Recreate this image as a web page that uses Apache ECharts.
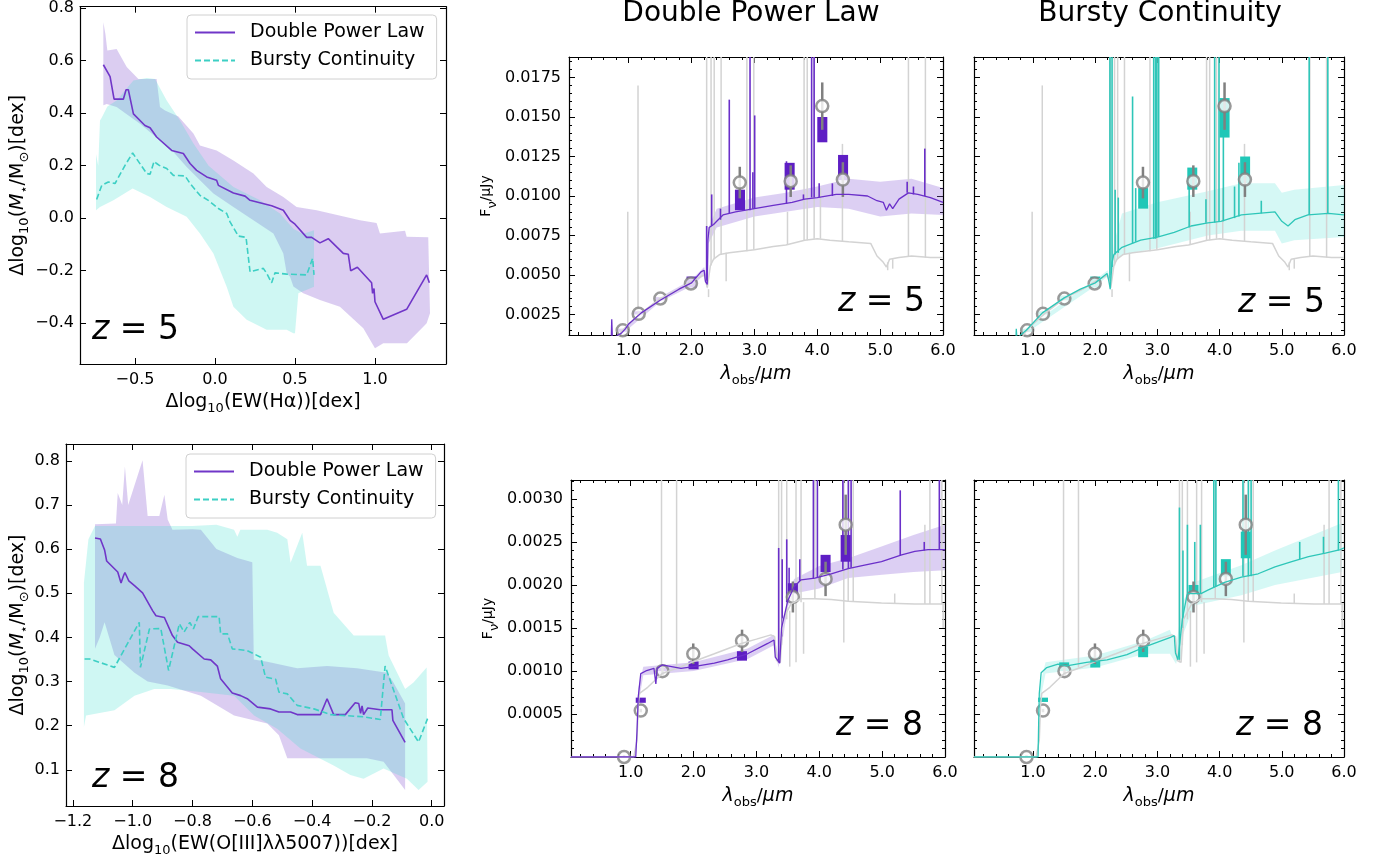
<!DOCTYPE html>
<html>
<head>
<meta charset="utf-8">
<script src="https://cdn.jsdelivr.net/npm/echarts@6/dist/echarts.min.js"></script>
<style>
  html, body { margin: 0; padding: 0; background: #fff; }
  #chart { width: 1385px; height: 858px; }
</style>
</head>
<body>
<div id="chart"></div>
<script>
// ---------- left panels: Delta log M vs Delta log EW ----------
var dpl5Line = [[-0.698,0.584],[-0.656,0.539],[-0.631,0.453],[-0.573,0.453],[-0.556,0.489],[-0.542,0.489],[-0.51,0.397],[-0.438,0.353],[-0.406,0.344],[-0.365,0.309],[-0.271,0.258],[-0.198,0.246],[-0.156,0.208],[-0.115,0.182],[-0.052,0.157],[0.010,0.144],[0.021,0.125],[0.115,0.096],[0.188,0.084],[0.219,0.068],[0.354,0.047],[0.427,0.030],[0.469,-0.008],[0.5,-0.023],[0.573,-0.073],[0.604,-0.073],[0.656,-0.094],[0.708,-0.078],[0.802,-0.134],[0.833,-0.137],[0.848,-0.2],[0.890,-0.187],[0.979,-0.246],[0.985,-0.286],[0.994,-0.268],[1.0,-0.318],[1.052,-0.385],[1.198,-0.347],[1.323,-0.216],[1.340,-0.246]];
var dpl5Band = [[-0.698,0.43],[-0.698,0.746],[-0.685,0.70],[-0.673,0.638],[-0.615,0.644],[-0.552,0.575],[-0.479,0.530],[-0.365,0.530],[-0.344,0.423],[-0.3125,0.41],[-0.229,0.387],[-0.135,0.322],[-0.094,0.277],[0.01,0.258],[0.115,0.220],[0.24,0.17],[0.323,0.119],[0.427,0.081],[0.51,0.043],[0.635,0.030],[0.906,-0.008],[1.01,-0.018],[1.031,-0.058],[1.188,-0.048],[1.198,-0.071],[1.333,-0.073],[1.344,-0.362],
  [1.323,-0.40],[1.302,-0.413],[1.2,-0.476],[1.052,-0.476],[1.0,-0.495],[0.927,-0.419],[0.781,-0.337],[0.656,-0.311],[0.552,-0.286],[0.49,-0.26],[0.469,-0.223],[0.448,-0.21],[0.427,-0.134],[0.365,-0.058],[0.24,-0.008],[0.115,0.043],[-0.01,0.094],[-0.094,0.144],[-0.177,0.195],[-0.26,0.252],[-0.344,0.296],[-0.469,0.359],[-0.615,0.423],[-0.677,0.435]];
var bc5Line = [[-0.74,0.071],[-0.708,0.125],[-0.667,0.138],[-0.625,0.132],[-0.5625,0.201],[-0.515,0.248],[-0.427,0.170],[-0.406,0.167],[-0.381,0.216],[-0.365,0.208],[-0.348,0.201],[-0.302,0.189],[-0.26,0.163],[-0.1875,0.161],[-0.156,0.132],[-0.094,0.087],[-0.042,0.068],[0.021,0.037],[0.073,0.018],[0.094,-0.014],[0.146,-0.068],[0.194,-0.073],[0.219,-0.204],[0.302,-0.191],[0.323,-0.21],[0.354,-0.246],[0.375,-0.208],[0.448,-0.213],[0.573,-0.216],[0.610,-0.153],[0.619,-0.216]];
var bc5Band = [[-0.744,0.03],[-0.744,0.243],[-0.73,0.20],[-0.719,0.372],[-0.71,0.38],[-0.673,0.425],[-0.615,0.448],[-0.51,0.524],[-0.427,0.534],[-0.375,0.530],[-0.302,0.448],[-0.219,0.372],[-0.135,0.284],[-0.04,0.20],[0.115,0.119],[0.281,0.068],[0.406,0.018],[0.49,-0.04],[0.55,-0.06],[0.619,-0.046],[0.619,-0.261],
  [0.521,-0.286],[0.5,-0.438],[0.49,-0.438],[0.448,-0.425],[0.323,-0.425],[0.198,-0.387],[0.115,-0.337],[0.073,-0.261],[-0.01,-0.134],[-0.094,-0.058],[-0.177,0.005],[-0.302,0.043],[-0.406,0.081],[-0.515,0.113],[-0.635,0.068],[-0.719,0.043]];

var dpl8Line = [[-1.126,0.625],[-1.108,0.623],[-1.094,0.598],[-1.087,0.573],[-1.05,0.548],[-1.039,0.523],[-1.031,0.539],[-1.026,0.547],[-1.013,0.528],[-0.994,0.517],[-0.967,0.501],[-0.933,0.460],[-0.922,0.449],[-0.894,0.445],[-0.867,0.404],[-0.85,0.389],[-0.811,0.381],[-0.8,0.374],[-0.761,0.351],[-0.739,0.349],[-0.717,0.335],[-0.706,0.306],[-0.667,0.274],[-0.639,0.268],[-0.617,0.261],[-0.583,0.242],[-0.539,0.238],[-0.511,0.231],[-0.472,0.231],[-0.45,0.225],[-0.372,0.225],[-0.35,0.261],[-0.328,0.225],[-0.289,0.225],[-0.256,0.252],[-0.244,0.25],[-0.238,0.228],[-0.233,0.245],[-0.228,0.225],[-0.214,0.240],[-0.172,0.236],[-0.133,0.236],[-0.13,0.212],[-0.089,0.162]];
var dpl8Band = [[-1.126,0.374],[-1.126,0.656],[-1.056,0.658],[-1.05,0.727],[-1.035,0.70],[-1.026,0.787],[-1.015,0.70],[-0.967,0.801],[-0.95,0.675],[-0.911,0.675],[-0.894,0.723],[-0.883,0.667],[-0.867,0.644],[-0.80,0.645],[-0.772,0.644],[-0.72,0.60],[-0.65,0.58],[-0.60,0.57],[-0.595,0.35],[-0.55,0.345],[-0.45,0.33],[-0.35,0.335],[-0.25,0.33],[-0.15,0.32],[-0.13,0.30],[-0.089,0.25],[-0.089,0.054],
  [-0.161,0.118],[-0.217,0.126],[-0.483,0.126],[-0.511,0.178],[-0.55,0.205],[-0.661,0.223],[-0.772,0.268],[-0.883,0.291],[-0.95,0.30],[-0.994,0.32],[-1.061,0.36],[-1.094,0.434],[-1.11,0.40]];
var bc8Line = [[-1.161,0.351],[-1.144,0.351],[-1.061,0.332],[-0.978,0.434],[-0.974,0.332],[-0.944,0.419],[-0.906,0.420],[-0.88,0.325],[-0.844,0.431],[-0.828,0.412],[-0.809,0.434],[-0.797,0.419],[-0.781,0.447],[-0.711,0.447],[-0.706,0.408],[-0.683,0.408],[-0.667,0.374],[-0.617,0.370],[-0.572,0.355],[-0.556,0.310],[-0.522,0.305],[-0.511,0.276],[-0.483,0.272],[-0.45,0.246],[-0.394,0.238],[-0.339,0.225],[-0.228,0.220],[-0.172,0.214],[-0.156,0.335],[-0.094,0.216],[-0.044,0.163],[-0.014,0.216]];
var bc8Band = [[-1.163,0.197],[-1.163,0.524],[-1.148,0.622],[-1.126,0.652],[-0.95,0.652],[-0.80,0.652],[-0.72,0.655],[-0.661,0.644],[-0.65,0.628],[-0.64,0.644],[-0.55,0.644],[-0.517,0.637],[-0.483,0.622],[-0.472,0.569],[-0.433,0.637],[-0.417,0.562],[-0.372,0.562],[-0.328,0.456],[-0.261,0.404],[-0.156,0.404],[-0.144,0.359],[-0.089,0.283],[-0.061,0.298],[-0.017,0.332],[-0.014,0.073],
  [-0.044,0.054],[-0.083,0.08],[-0.161,0.103],[-0.228,0.08],[-0.272,0.088],[-0.328,0.11],[-0.439,0.148],[-0.517,0.193],[-0.594,0.223],[-0.661,0.268],[-0.772,0.276],[-0.872,0.283],[-0.928,0.283],[-0.994,0.268],[-1.061,0.235],[-1.156,0.223]];

// ---------- SED panels ----------
// photometry (same in both columns)
var phot5X = [0.905, 1.159, 1.503, 1.99, 2.767, 3.577, 4.079, 4.407];
var phot5Y = [0.0015, 0.00254, 0.00351, 0.00446, 0.01085, 0.01094, 0.01569, 0.01104];
var phot5Err = [0.0001, 0.0001, 0.0001, 0.0001, 0.001, 0.001, 0.0015, 0.0011];
var phot8X = [0.894, 1.16, 1.505, 1.995, 2.771, 3.58, 4.10, 4.42];
var phot8Y = [0.0, 0.00054, 0.000997, 0.0012, 0.00135, 0.00186, 0.00207, 0.0027];
var phot8Err = [0.00002, 0.00002, 0.00005, 0.00012, 0.00013, 0.00018, 0.0002, 0.00035];

// grey comparison spectra, [wavelength, flux] and lines [wavelength, base, tip]
var gray5 = [[0.80,0.0009],[0.88,0.0014],[1.0,0.0019],[1.2,0.0026],[1.5,0.0035],[1.8,0.0041],[2.0,0.0046],[2.2,0.0050],[2.25,0.0042],[2.27,0.0041],[2.3,0.0056],[2.35,0.0060],[2.45,0.0063],[2.6,0.0064],[2.8,0.0065],[3.0,0.0066],[3.3,0.0068],[3.5,0.0069],[3.8,0.0072],[4.0,0.0073],[4.2,0.0072],[4.5,0.0071],[4.85,0.0070],[4.95,0.0062],[5.05,0.0058],[5.1,0.0055],[5.15,0.0060],[5.3,0.0061],[5.5,0.0062],[5.8,0.0061],[6.0,0.0061]];
var gray5Lines = [[0.985,0.0019,0.0090],[1.148,0.0025,0.0170],[2.24,0.0050,0.03],[2.27,0.0041,0.0036],[2.31,0.0056,0.03],[2.36,0.0060,0.03],[2.47,0.0063,0.03],[2.55,0.0064,0.0046],[2.88,0.0065,0.03],[2.99,0.0066,0.03],[3.526,0.0069,0.0090],[3.79,0.0072,0.03],[3.84,0.0072,0.03],[3.95,0.0073,0.03],[4.05,0.0073,0.0105],[4.40,0.0071,0.0133],[5.12,0.0058,0.0053],[5.2,0.0060,0.0054],[5.45,0.0062,0.03],[5.72,0.0061,0.03]];
var gray8 = [[0.05,0],[1.05,0],[1.10,0.0002],[1.12,0.0006],[1.14,0.00074],[1.27,0.00081],[1.4,0.0009],[1.5,0.00097],[1.8,0.00105],[2.0,0.00111],[2.33,0.0012],[2.76,0.00132],[3.0,0.00137],[3.23,0.00142],[3.29,0.0014],[3.32,0.00112],[3.38,0.00110],[3.42,0.0016],[3.55,0.00178],[3.71,0.00184],[3.93,0.00184],[4.19,0.00183],[4.46,0.00181],[4.99,0.00179],[5.52,0.00178],[6.0,0.00178]];
var gray8Lines = [[1.49,0.00097,0.004],[1.73,0.00104,0.004],[3.354,0.0011,0.004],[3.40,0.0013,0.004],[3.482,0.0016,0.004],[3.53,0.0017,0.00105],[3.63,0.0018,0.004],[3.63,0.0018,0.0011],[3.71,0.0018,0.004],[3.75,0.0018,0.0012],[3.93,0.00184,0.004],[4.39,0.00182,0.00133],[4.39,0.00182,0.004],[4.46,0.00181,0.004],[4.54,0.00181,0.004],[5.2,0.00179,0.0019],[5.68,0.00178,0.0027],[5.76,0.00178,0.004],[5.95,0.00178,0.004],[5.97,0.00178,0.0015]];

// Double Power Law z=5
var dpl5Spec = [[0.72,0.0005],[0.73,0.0022],[0.74,0.0010],[0.88,0.0013],[0.95,0.0016],[1.0,0.0019],[1.2,0.0026],[1.5,0.0034],[1.8,0.0041],[2.0,0.0045],[2.15,0.0052],[2.2,0.0053],[2.22,0.0046],[2.25,0.0044],[2.26,0.0072],[2.28,0.0080],[2.35,0.0082],[2.4,0.0084],[2.5,0.0088],[2.7,0.0090],[3.0,0.0092],[3.3,0.0094],[3.6,0.0096],[3.8,0.0098],[4.0,0.0099],[4.3,0.0101],[4.5,0.0101],[4.8,0.0100],[4.95,0.0097],[5.05,0.0096],[5.1,0.0091],[5.15,0.0095],[5.2,0.0092],[5.3,0.0098],[5.45,0.0102],[5.6,0.0101],[5.8,0.0099],[6.0,0.0096]];
var dpl5Lines = [[2.24,0.0046,0.0081],[2.32,0.0081,0.0101],[2.46,0.0085,0.0092],[2.60,0.0089,0.0161],[2.93,0.0091,0.03],[2.975,0.0092,0.0115],[3.004,0.0092,0.0151],[3.51,0.0095,0.0122],[3.78,0.0098,0.0101],[3.91,0.0099,0.03],[3.95,0.0099,0.03],[4.03,0.0099,0.0108],[4.24,0.0100,0.0108],[5.43,0.0102,0.0109],[5.53,0.0101,0.0106],[5.71,0.0100,0.0130]];
var dpl5SpecBand = [[0.88,0.0015],[1.5,0.0036],[2.0,0.0047],[2.2,0.0055],[2.25,0.0047],[2.27,0.0080],[2.4,0.0092],[3.0,0.0099],[3.5,0.0102],[4.0,0.0106],[4.5,0.0111],[5.0,0.0109],[5.5,0.0111],[6.0,0.0105],
  [6.0,0.0088],[5.5,0.0089],[5.0,0.0087],[4.5,0.0092],[4.0,0.0093],[3.5,0.0090],[3.0,0.0087],[2.4,0.0080],[2.27,0.0070],[2.25,0.0041],[2.2,0.0050],[2.0,0.0043],[1.5,0.0033],[0.88,0.0012]];
var dpl5Boxes = [[0.90,0.0014,0.0016],[1.15,0.0025,0.0027],[1.50,0.0034,0.0036],[2.00,0.0042,0.0049],[2.77,0.0091,0.0104],[3.56,0.0104,0.0121],[4.08,0.0134,0.0150],[4.41,0.0110,0.0126]];

// Bursty Continuity z=5
var bc5Spec = [[0.72,0.0005],[0.73,0.0016],[0.74,0.0010],[0.89,0.0015],[1.15,0.0026],[1.50,0.00355],[1.76,0.0041],[2.0,0.0045],[2.19,0.0051],[2.22,0.0046],[2.24,0.0041],[2.27,0.0058],[2.3,0.0063],[2.43,0.00675],[2.73,0.0072],[3.0,0.0074],[3.27,0.0077],[3.54,0.0081],[3.81,0.0083],[4.02,0.0084],[4.35,0.0088],[4.62,0.0089],[4.89,0.0090],[5.0,0.0084],[5.1,0.0081],[5.21,0.0085],[5.42,0.0088],[5.75,0.0089],[6.0,0.0088]];
var bc5Lines = [[2.236,0.0046,0.03],[2.27,0.0055,0.03],[2.32,0.0063,0.0104],[2.37,0.0064,0.0099],[2.60,0.0070,0.0163],[2.65,0.0071,0.0105],[2.94,0.0073,0.03],[2.97,0.0073,0.03],[2.99,0.0074,0.03],[3.02,0.0074,0.03],[3.51,0.0080,0.0111],[3.78,0.0083,0.0098],[3.92,0.0083,0.03],[3.99,0.0084,0.03],[4.06,0.0084,0.0151],[4.24,0.0086,0.0106],[4.31,0.0087,0.0121],[4.67,0.0089,0.0097],[5.44,0.0088,0.03],[5.74,0.0089,0.03]];
var bc5SpecBand = [[0.88,0.0016],[2.0,0.0047],[2.2,0.0053],[2.25,0.0046],[2.3,0.0070],[2.43,0.0089],[3.0,0.0096],[3.81,0.0103],[4.35,0.0108],[4.89,0.0108],[5.0,0.0102],[5.2,0.0104],[6.0,0.0107],
  [6.0,0.0074],[5.2,0.0072],[5.0,0.0070],[4.89,0.0078],[4.35,0.0078],[3.81,0.0075],[3.0,0.0067],[2.43,0.0063],[2.3,0.0057],[2.25,0.0040],[2.2,0.0049],[2.0,0.0043],[0.88,0.0013]];
var bc5Boxes = [[0.90,0.0014,0.0016],[1.15,0.0025,0.0027],[1.50,0.0034,0.0037],[2.00,0.0042,0.0049],[2.77,0.0092,0.0105],[3.56,0.0104,0.0118],[4.08,0.0137,0.0162],[4.41,0.0108,0.0125]];

// Double Power Law z=8
var dpl8Spec = [[0.05,0],[1.08,0],[1.10,0.0003],[1.12,0.0007],[1.16,0.00097],[1.24,0.0010],[1.37,0.00103],[1.40,0.00085],[1.42,0.00103],[1.5,0.00107],[1.8,0.00103],[2.0,0.00105],[2.33,0.00109],[2.54,0.00113],[2.86,0.0012],[3.18,0.00132],[3.28,0.00136],[3.30,0.00116],[3.37,0.00109],[3.40,0.0015],[3.5,0.00182],[3.6,0.00198],[3.71,0.00206],[3.93,0.00208],[4.19,0.00213],[4.46,0.00219],[4.72,0.00223],[4.99,0.00227],[5.31,0.00235],[5.52,0.00239],[5.73,0.00241],[6.0,0.00241]];
var dpl8Lines = [[3.354,0.0011,0.00243],[3.41,0.0014,0.0023],[3.482,0.0018,0.00253],[3.52,0.0018,0.0022],[3.69,0.00205,0.0023],[3.906,0.00207,0.004],[3.97,0.00208,0.004],[4.375,0.00218,0.004],[4.463,0.00219,0.004],[4.506,0.0022,0.004],[5.288,0.00234,0.0031],[5.67,0.0024,0.0025],[5.91,0.00241,0.004]];
var dpl8SpecBand = [[1.12,0.0008],[1.2,0.00105],[2.0,0.0011],[2.86,0.00126],[3.28,0.00142],[3.35,0.00115],[3.5,0.0019],[3.6,0.00207],[4.0,0.00222],[4.46,0.00231],[5.0,0.00245],[5.5,0.00258],[6.0,0.0027],
  [6.0,0.00217],[5.5,0.00215],[5.0,0.00212],[4.46,0.00208],[4.0,0.00196],[3.6,0.0019],[3.5,0.00175],[3.35,0.00104],[3.28,0.0013],[2.86,0.00114],[2.0,0.001],[1.2,0.00095],[1.12,0.0006]];
var dpl8Boxes = [[1.16,0.00063,0.00069],[1.50,0.00100,0.00104],[2.00,0.00102,0.00111],[2.77,0.00112,0.00123],[3.58,0.0019,0.00202],[4.10,0.00215,0.00235],[4.42,0.00227,0.00258]];

// Bursty Continuity z=8
var bc8Spec = [[0.05,0],[1.08,0],[1.09,0.0004],[1.10,0.00074],[1.13,0.00098],[1.22,0.00104],[1.4,0.00108],[1.54,0.00106],[1.86,0.0011],[2.19,0.00113],[2.51,0.00119],[2.83,0.00129],[3.21,0.00139],[3.27,0.00141],[3.29,0.00121],[3.33,0.00113],[3.40,0.0016],[3.48,0.0019],[3.7,0.0019],[3.81,0.00194],[4.08,0.00203],[4.35,0.00209],[4.62,0.00213],[4.89,0.00221],[5.16,0.00227],[5.43,0.00233],[5.7,0.00237],[5.94,0.00241],[6.0,0.00243]];
var bc8Lines = [[3.354,0.00113,0.0029],[3.41,0.0015,0.0024],[3.482,0.0019,0.0027],[3.60,0.0019,0.0025],[3.69,0.0019,0.0027],[3.906,0.00197,0.004],[3.94,0.00198,0.004],[4.375,0.0021,0.004],[4.463,0.0021,0.004],[4.506,0.0021,0.004],[5.288,0.0023,0.0025],[5.67,0.00237,0.00256],[5.91,0.0024,0.004]];
var bc8SpecBand = [[1.10,0.0008],[1.2,0.0011],[2.0,0.00118],[2.8,0.00135],[3.2,0.00148],[3.3,0.00128],[3.4,0.0018],[3.59,0.00203],[4.35,0.00223],[4.89,0.0024],[5.97,0.00272],
  [5.97,0.00215],[4.89,0.002],[4.35,0.00188],[3.59,0.00176],[3.4,0.0014],[3.3,0.00108],[3.2,0.0012],[2.8,0.0012],[2.0,0.00104],[1.2,0.00097],[1.10,0.0006]];
var bc8Boxes = [[1.16,0.00064,0.00069],[1.50,0.0010,0.0011],[2.00,0.00104,0.00116],[2.77,0.00116,0.00128],[3.58,0.0019,0.0020],[4.10,0.0021,0.0023],[4.42,0.00231,0.00262]];

// tick labels
var ew5Ticks = [-0.5, 0.0, 0.5, 1.0];
var m5Ticks = [-0.4, -0.2, 0.0, 0.2, 0.4, 0.6, 0.8];
var ew8Ticks = [-1.2, -1.0, -0.8, -0.6, -0.4, -0.2, 0.0];
var m8Ticks = [0.1, 0.2, 0.3, 0.4, 0.5, 0.6, 0.7, 0.8];
var lamTicks = [1, 2, 3, 4, 5, 6];
var f5Ticks = [0.0025, 0.005, 0.0075, 0.01, 0.0125, 0.015, 0.0175];
var f8Ticks = [0.0005, 0.001, 0.0015, 0.002, 0.0025, 0.003];

var FONT = 'DejaVu Sans';
var PURPLE = '#7036c8', TURQ = '#3dcfc4';
var SPEC_P = '#6a2fc9', SPEC_T = '#2ec6b8';
var BOX_P = '#5e1ec4', BOX_T = '#20c7b7';

function minors(lo, hi, step, major) {
  var out = [];
  for (var k = Math.ceil(lo / step); k * step <= hi; k++) {
    var v = +(k * step).toFixed(6);
    if (!major.some(function (m) { return Math.abs(m - v) < step / 10; })) out.push(v);
  }
  return out;
}
var fmt1 = function (v) { return v.toFixed(1).replace('-', '\u2212'); };
var fmt4 = function (v) { return v.toFixed(4); };

var subRich = {
  s: { fontSize: 13, fontFamily: FONT, lineHeight: 26, verticalAlign: 'bottom' },
  i: { fontStyle: 'italic', fontSize: 19, fontFamily: FONT }
};

var xAxes = [], yAxes = [], X = [], Y = [];
function ax(g, pos, min, max, ticks, len, o) {
  o = o || {};
  var a = {
    type: 'value', gridIndex: g, position: pos, min: min, max: max,
    axisLine: { show: o.line !== false, onZero: false, lineStyle: { color: '#000', width: 1.2 } },
    axisTick: { show: true, inside: true, length: len, customValues: ticks, lineStyle: { color: '#000', width: 1 } },
    axisLabel: { show: !!o.fmt, customValues: ticks, formatter: o.fmt, margin: o.margin || 7,
      color: '#000', fontSize: 16, fontFamily: FONT },
    splitLine: { show: false }
  };
  if (o.name) {
    a.name = o.name; a.nameLocation = 'middle'; a.nameGap = o.gap;
    a.nameTextStyle = { color: '#000', fontSize: o.nameSize || 19, fontFamily: FONT, rich: subRich };
  }
  return a;
}
function frame(g, xr, yr, xt, yt, o) {
  X[g] = xAxes.length; Y[g] = yAxes.length;
  xAxes.push(ax(g, 'bottom', xr[0], xr[1], xt, 6, { fmt: fmt1, margin: 8, name: o.xName, gap: o.xGap, nameSize: o.xSize }));
  yAxes.push(ax(g, 'left', yr[0], yr[1], yt, 6, { fmt: o.yLabels ? o.yFmt : null, margin: o.yMargin || 6, name: o.yName, gap: o.yGap, nameSize: o.ySize }));
  xAxes.push(ax(g, 'top', xr[0], xr[1], xt, 6));
  yAxes.push(ax(g, 'right', yr[0], yr[1], yt, 6));
  if (o.xMinor) {
    xAxes.push(ax(g, 'bottom', xr[0], xr[1], o.xMinor, 3, { line: false }));
    xAxes.push(ax(g, 'top', xr[0], xr[1], o.xMinor, 3, { line: false }));
    yAxes.push(ax(g, 'left', yr[0], yr[1], o.yMinor, 3, { line: false }));
    yAxes.push(ax(g, 'right', yr[0], yr[1], o.yMinor, 3, { line: false }));
  }
}

var r5 = [0.0012, 0.0188], r8 = [0, 0.00322], rl = [0.05, 6.0];
var lamMinor = minors(0.1, 5.95, 0.2, lamTicks);
frame(0, [-0.844, 1.444], [-0.555, 0.805], ew5Ticks, m5Ticks, { yLabels: true, yFmt: fmt1,
  xName: 'Δlog{s|10}(EW(Hα))[dex]', xGap: 25, yName: 'Δlog{s|10}({i|M}{s|⋆}/M{s|⊙})[dex]', yGap: 44 });
frame(1, [-1.223, 0.041], [0.018, 0.838], ew8Ticks, m8Ticks, { yLabels: true, yFmt: fmt1,
  xName: 'Δlog{s|10}(EW(O[III]λλ5007))[dex]', xGap: 25, yName: 'Δlog{s|10}({i|M}{s|⋆}/M{s|⊙})[dex]', yGap: 34 });
frame(2, rl, r5, lamTicks, f5Ticks, { yLabels: true, yFmt: fmt4, yMargin: 8, xMinor: lamMinor, yMinor: minors(0.0012, 0.0188, 0.0005, f5Ticks),
  xName: '{i|λ}{s|obs}/{i|µm}', xGap: 26, xSize: 18, yName: 'F{s|ν}/µJy', yGap: 70, ySize: 14 });
frame(3, rl, r5, lamTicks, f5Ticks, { yLabels: false, xMinor: lamMinor, yMinor: minors(0.0012, 0.0188, 0.0005, f5Ticks),
  xName: '{i|λ}{s|obs}/{i|µm}', xGap: 26, xSize: 18 });
frame(4, rl, r8, lamTicks, f8Ticks, { yLabels: true, yFmt: fmt4, yMargin: 8, xMinor: lamMinor, yMinor: minors(0.0001, 0.0032, 0.0001, f8Ticks),
  xName: '{i|λ}{s|obs}/{i|µm}', xGap: 26, xSize: 18, yName: 'F{s|ν}/µJy', yGap: 70, ySize: 14 });
frame(5, rl, r8, lamTicks, f8Ticks, { yLabels: false, xMinor: lamMinor, yMinor: minors(0.0001, 0.0032, 0.0001, f8Ticks),
  xName: '{i|λ}{s|obs}/{i|µm}', xGap: 26, xSize: 18 });

function on(g, s) { s.xAxisIndex = X[g]; s.yAxisIndex = Y[g]; return s; }
function polygon(g, pts, fill) {
  return on(g, { type: 'custom', data: pts, clip: true, silent: true,
    renderItem: function (p, api) {
      if (p.dataIndex !== 0) return;
      return { type: 'polygon', shape: { points: pts.map(function (q) { return api.coord(q); }) }, style: { fill: fill } };
    } });
}
function curve(g, data, color, w, name, dash) {
  var s = on(g, { type: 'line', data: data, showSymbol: false, symbol: 'none', clip: true, silent: true,
    lineStyle: { color: color, width: w, type: dash || 'solid' }, itemStyle: { color: color } });
  if (name) s.name = name;
  return s;
}
function segs(g, data, color, w) {
  return on(g, { type: 'custom', data: data, clip: true, silent: true, encode: { x: 0, y: [1, 2] },
    renderItem: function (p, api) {
      var a = api.coord([api.value(0), api.value(1)]), b = api.coord([api.value(0), api.value(2)]);
      return { type: 'line', shape: { x1: a[0], y1: a[1], x2: b[0], y2: b[1] }, style: { stroke: color, lineWidth: w } };
    } });
}
function boxes(g, data, color) {
  return on(g, { type: 'custom', data: data, clip: true, silent: true, encode: { x: 0, y: [1, 2] },
    renderItem: function (p, api) {
      var a = api.coord([api.value(0) - 0.08, api.value(2)]), b = api.coord([api.value(0) + 0.08, api.value(1)]);
      return { type: 'rect', shape: { x: a[0], y: a[1], width: b[0] - a[0], height: b[1] - a[1] }, style: { fill: color } };
    } });
}
function photometry(g, xs, ys, errs) {
  var bars = xs.map(function (x, i) { return [x, ys[i] - errs[i], ys[i] + errs[i]]; });
  var pts = xs.map(function (x, i) { return [x, ys[i]]; });
  return [segs(g, bars, '#808080', 2.5),
    on(g, { type: 'scatter', data: pts, symbol: 'circle', symbolSize: 12, clip: true, silent: true,
      itemStyle: { color: '#fff', borderColor: '#808080', borderWidth: 2.5 } })];
}
function sedPanel(g, gray, grayLines, band, bandFill, spec, lines, color, bx, boxColor, px, py, pe) {
  return [polygon(g, band, bandFill), curve(g, gray, '#d3d3d3', 1.5), segs(g, grayLines, '#d3d3d3', 1.5),
    curve(g, spec, color, 1.3), segs(g, lines, color, 1.6), boxes(g, bx, boxColor)]
    .concat(photometry(g, px, py, pe));
}

var series = [
  polygon(0, dpl5Band, 'rgba(125,75,205,0.28)'), polygon(0, bc5Band, 'rgba(64,224,208,0.25)'),
  curve(0, dpl5Line, PURPLE, 1.6, 'Double Power Law'), curve(0, bc5Line, TURQ, 1.6, 'Bursty Continuity', [6, 3]),
  polygon(1, dpl8Band, 'rgba(125,75,205,0.28)'), polygon(1, bc8Band, 'rgba(64,224,208,0.25)'),
  curve(1, dpl8Line, PURPLE, 1.6, 'Double Power Law'), curve(1, bc8Line, TURQ, 1.6, 'Bursty Continuity', [6, 3])
].concat(
  sedPanel(2, gray5, gray5Lines, dpl5SpecBand, 'rgba(140,95,215,0.3)', dpl5Spec, dpl5Lines, SPEC_P, dpl5Boxes, BOX_P, phot5X, phot5Y, phot5Err),
  sedPanel(3, gray5, gray5Lines, bc5SpecBand, 'rgba(64,224,208,0.22)', bc5Spec, bc5Lines, SPEC_T, bc5Boxes, BOX_T, phot5X, phot5Y, phot5Err),
  sedPanel(4, gray8, gray8Lines, dpl8SpecBand, 'rgba(140,95,215,0.3)', dpl8Spec, dpl8Lines, SPEC_P, dpl8Boxes, BOX_P, phot8X, phot8Y, phot8Err),
  sedPanel(5, gray8, gray8Lines, bc8SpecBand, 'rgba(64,224,208,0.22)', bc8Spec, bc8Lines, SPEC_T, bc8Boxes, BOX_T, phot8X, phot8Y, phot8Err)
);

function legendAt(left, top) {
  return { left: left, top: top, orient: 'vertical', data: ['Double Power Law', 'Bursty Continuity'],
    itemWidth: 40, itemHeight: 14, itemGap: 9, padding: [8, 12, 9, 7], selectedMode: false,
    itemStyle: { opacity: 0 },
    backgroundColor: 'rgba(255,255,255,0.8)', borderColor: '#d0d0d0', borderWidth: 1, borderRadius: 4,
    textStyle: { fontSize: 19, fontFamily: FONT, color: '#000', padding: [0, 0, 0, 10] } };
}
function zText(x, y, z, align) {
  return { type: 'text', x: x, y: y, z: 100, style: { text: '{i|z} = ' + z, align: align, verticalAlign: 'middle',
    fontSize: 33, fontFamily: FONT, fill: '#000', rich: { i: { fontStyle: 'italic', fontSize: 33, fontFamily: FONT } } } };
}

var chart = echarts.init(document.getElementById('chart'), null, { renderer: 'canvas' });
chart.setOption({
  animation: false,
  backgroundColor: '#fff',
  grid: [
    { left: 80, top: 6, width: 366, height: 358 },
    { left: 66, top: 444, width: 378, height: 364 },
    { left: 569, top: 57, width: 374, height: 278 },
    { left: 974, top: 57, width: 370, height: 278 },
    { left: 571, top: 480, width: 374, height: 277 },
    { left: 974, top: 480, width: 370, height: 277 }
  ],
  xAxis: xAxes,
  yAxis: yAxes,
  legend: [legendAt(187, 15), legendAt(186, 454)],
  series: series,
  graphic: [
    { type: 'text', x: 751, y: 14, style: { text: 'Double Power Law', align: 'center', verticalAlign: 'middle', fontSize: 28, fontFamily: FONT, fill: '#000' } },
    { type: 'text', x: 1160, y: 14, style: { text: 'Bursty Continuity', align: 'center', verticalAlign: 'middle', fontSize: 28, fontFamily: FONT, fill: '#000' } },
    zText(92, 330, 5, 'left'), zText(92, 778, 8, 'left'),
    zText(925, 302, 5, 'right'), zText(1325, 303, 5, 'right'),
    zText(923, 726, 8, 'right'), zText(1323, 726, 8, 'right')
  ]
});
</script>
</body>
</html>
